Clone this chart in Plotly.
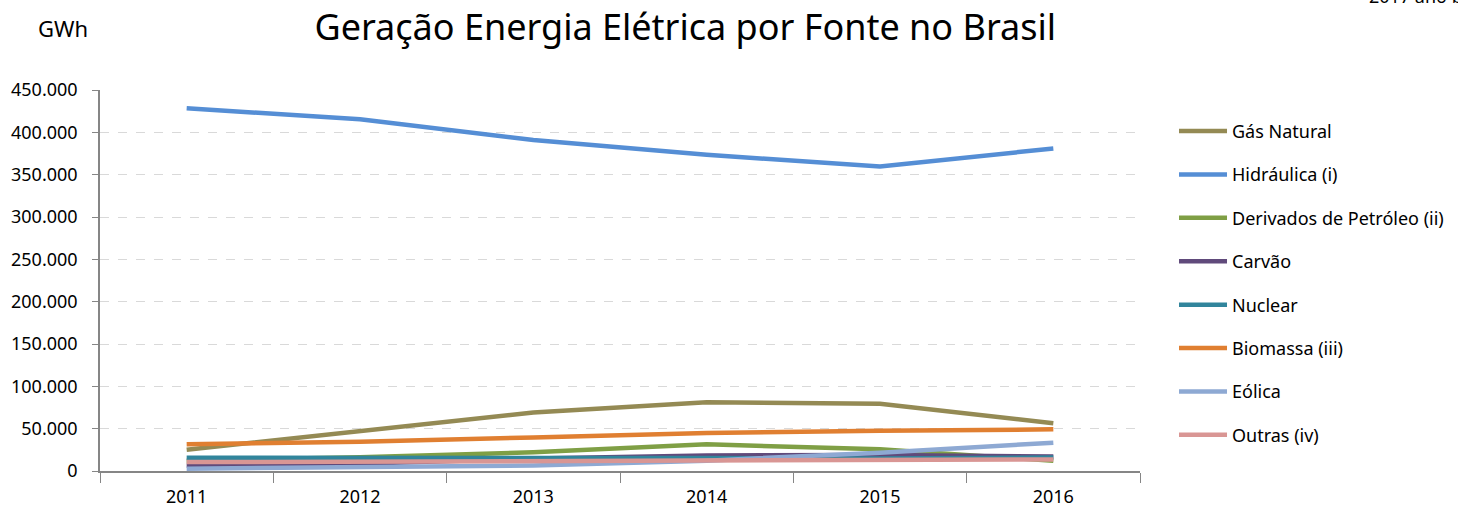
import plotly.graph_objects as go

years = ["2011", "2012", "2013", "2014", "2015", "2016"]

gas_natural = [25095, 46760, 69003, 81075, 79490, 56485]
hidraulica = [428333, 415342, 390992, 373439, 359743, 380911]
derivados = [12239, 16214, 22090, 31529, 25662, 12103]
carvao = [6485, 8422, 14801, 18385, 18856, 17001]
nuclear = [15659, 16038, 15450, 15378, 14734, 15864]
biomassa = [31633, 34662, 39679, 44987, 47394, 49236]
eolica = [2705, 5050, 6578, 12210, 21626, 33489]
outras = [10500, 11200, 12200, 13500, 13700, 13600]

series = [
    ("Gás Natural", gas_natural, "#948A54"),
    ("Hidráulica (i)", hidraulica, "#558ED5"),
    ("Derivados de Petróleo (ii)", derivados, "#7F9F45"),
    ("Carvão", carvao, "#604A7B"),
    ("Nuclear", nuclear, "#31859C"),
    ("Biomassa (iii)", biomassa, "#E07F31"),
    ("Eólica", eolica, "#8EA9D3"),
    ("Outras (iv)", outras, "#D99694"),
]

font = "Noto Sans"

fig = go.Figure()
for i, (name, vals, color) in enumerate(series):
    fig.add_trace(go.Scatter(
        x=years, y=vals, name=name, mode="lines",
        line=dict(color=color, width=4.5),
        legendgroup=f"g{i}",
    ))

fig.update_layout(
    width=1458, height=507,
    margin=dict(l=100, r=318, t=90, b=36, autoexpand=False),
    plot_bgcolor="white", paper_bgcolor="white",
    separators=",.",
    font=dict(family=font, size=18, color="#000000"),
    title=dict(text="Geração Energia Elétrica por Fonte no Brasil",
               x=0.47, xanchor="center", y=0.945, yanchor="middle",
               font=dict(size=36, family=font)),
    legend=dict(x=1.0327, y=0.94, xanchor="left", yanchor="top",
                tracegroupgap=17, font=dict(size=18), maxheight=480,
                itemwidth=48, bgcolor="rgba(0,0,0,0)"),
    showlegend=True,
)

fig.update_xaxes(
    type="category", range=[-0.5, 5.5], automargin=False,
    showline=True, linecolor="#868686", linewidth=1.5,
    ticks="outside", tickson="boundaries", ticklen=10, tickcolor="#868686",
    ticklabelstandoff=9,
    showgrid=False, tickfont=dict(size=18),
)
fig.update_yaxes(
    range=[0, 450000], dtick=50000, tickformat=",d", automargin=False,
    showline=True, linecolor="#868686", linewidth=1.5,
    ticks="outside", ticklen=6, tickcolor="#868686",
    ticklabelstandoff=11,
    showgrid=True, gridcolor="#D9D9D9", griddash="dash", gridwidth=1,
    zeroline=False, tickfont=dict(size=18),
)

fig.add_annotation(text="GWh", xref="paper", yref="paper",
                   x=(63 - 100) / 1040, y=(471 - 28) / 381,
                   xanchor="center", yanchor="middle", showarrow=False,
                   font=dict(size=22))
fig.add_annotation(text="2017 ano base 2016", xref="paper", yref="paper",
                   x=(1367 - 100) / 1040, y=(471 - 10) / 381,
                   xanchor="left", yanchor="bottom", showarrow=False,
                   font=dict(size=18))

fig.write_html("out.html", config={"displayModeBar": False},
               post_script="document.body.style.margin='0';")
